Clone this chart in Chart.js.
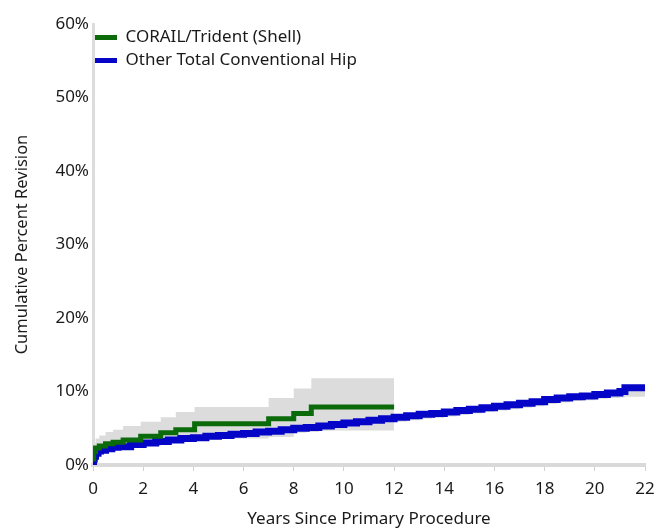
<!DOCTYPE html>
<html>
<head>
<meta charset="utf-8">
<script src="https://cdn.jsdelivr.net/npm/chart.js@4/dist/chart.umd.min.js"></script>
<style>
  html, body { margin: 0; padding: 0; background: #ffffff; }
  #wrap { width: 657px; height: 530px; }
</style>
</head>
<body>
<div id="wrap"><canvas id="c" width="657" height="530"></canvas></div>
<script>
// ---- Data (years since primary procedure, cumulative percent revision) ----
const seriesNames = ["CORAIL/Trident (Shell)", "Other Total Conventional Hip"];

const greenYears = [0, 0.03, 0.1, 0.25, 0.5, 0.8, 1.2, 1.9, 2.7, 3.3, 4.05, 7.0, 8.0, 8.7, 12.0];
const greenVals  = [0.8, 1.8, 2.3, 2.6, 2.9, 3.1, 3.4, 3.9, 4.4, 4.8, 5.6, 6.3, 7.0, 7.9, 7.9];
const greenLo    = [0.3, 1.0, 1.4, 1.6, 1.9, 2.1, 2.3, 2.6, 3.0, 3.3, 3.6, 3.8, 4.6, 4.7, 4.7];
const greenHi    = [1.5, 3.0, 3.6, 4.0, 4.5, 4.8, 5.3, 5.9, 6.5, 7.2, 7.9, 9.1, 10.4, 11.8, 11.8];

const blueYears = [0, 0.02, 0.05, 0.1, 0.2, 0.3, 0.5, 0.75, 1, 1.5, 2, 2.5, 3, 3.5, 4, 4.5, 5, 5.5, 6, 6.5, 7, 7.5, 8, 8.5, 9, 9.5, 10, 10.5, 11, 11.5, 12, 12.5, 13, 13.5, 14, 14.5, 15, 15.5, 16, 16.5, 17, 17.5, 18, 18.5, 19, 19.5, 20, 20.5, 21, 21.2, 22];
const blueVals  = [0.2, 0.8, 1.2, 1.6, 1.9, 2.0, 2.2, 2.4, 2.5, 2.8, 3.0, 3.2, 3.4, 3.6, 3.7, 3.9, 4.0, 4.2, 4.3, 4.5, 4.6, 4.8, 5.0, 5.1, 5.3, 5.5, 5.7, 5.9, 6.1, 6.3, 6.5, 6.7, 6.9, 7.0, 7.2, 7.4, 7.6, 7.8, 8.0, 8.2, 8.4, 8.6, 8.9, 9.1, 9.3, 9.4, 9.6, 9.8, 10.0, 10.5, 10.5];
const blueLo    = [0.1, 0.6, 1.0, 1.4, 1.7, 1.8, 2.0, 2.2, 2.3, 2.5, 2.7, 2.9, 3.1, 3.2, 3.3, 3.5, 3.6, 3.7, 3.8, 4.0, 4.1, 4.3, 4.4, 4.5, 4.7, 4.9, 5.1, 5.3, 5.5, 5.7, 5.9, 6.1, 6.3, 6.4, 6.6, 6.8, 7.0, 7.2, 7.4, 7.6, 7.8, 8.0, 8.3, 8.5, 8.7, 8.8, 9.0, 9.1, 9.2, 9.3, 9.3];
const blueHi    = [0.4, 1.0, 1.4, 1.8, 2.1, 2.2, 2.4, 2.6, 2.7, 3.0, 3.2, 3.4, 3.6, 3.8, 3.9, 4.1, 4.3, 4.5, 4.6, 4.8, 4.9, 5.1, 5.3, 5.4, 5.6, 5.8, 6.0, 6.2, 6.4, 6.6, 6.8, 7.0, 7.2, 7.3, 7.5, 7.7, 7.9, 8.1, 8.3, 8.5, 8.7, 8.9, 9.2, 9.4, 9.6, 9.7, 9.9, 10.1, 10.3, 10.8, 10.8];

const xTicks = [0, 2, 4, 6, 8, 10, 12, 14, 16, 18, 20, 22];
const yTicks = [0, 10, 20, 30, 40, 50, 60];

// ---- Build datasets ----
const pts = (xs, ys) => xs.map((x, i) => ({ x: x, y: ys[i] }));
const GREEN = '#0b6b0b';
const BLUE = '#0505c8';
const CI = '#dcdcdc';

const datasets = [
  { label: seriesNames[0], data: pts(greenYears, greenVals), borderColor: GREEN, backgroundColor: GREEN, borderWidth: 5, stepped: 'before', pointRadius: 0, fill: false, order: 0, isLine: true },
  { label: seriesNames[1], data: pts(blueYears, blueVals), borderColor: BLUE, backgroundColor: BLUE, borderWidth: 7, stepped: 'before', pointRadius: 0, fill: false, order: 0, isLine: true },
  { label: 'g_hi', data: pts(greenYears, greenHi), borderWidth: 0, borderColor: 'rgba(0,0,0,0)', stepped: 'before', pointRadius: 0, fill: false, order: 2 },
  { label: 'g_lo', data: pts(greenYears, greenLo), borderWidth: 0, borderColor: 'rgba(0,0,0,0)', backgroundColor: CI, stepped: 'before', pointRadius: 0, fill: '-1', order: 2 },
  { label: 'b_hi', data: pts(blueYears, blueHi), borderWidth: 0, borderColor: 'rgba(0,0,0,0)', stepped: 'before', pointRadius: 0, fill: false, order: 2 },
  { label: 'b_lo', data: pts(blueYears, blueLo), borderWidth: 0, borderColor: 'rgba(0,0,0,0)', backgroundColor: CI, stepped: 'before', pointRadius: 0, fill: '-1', order: 2 }
];

const FONT = "'Noto Sans', 'Open Sans', sans-serif";
const TXT = '#1a1a1a';

// shift the in-plot legend to its place
const legendShift = {
  id: 'legendShift',
  afterLayout(chart) {
    const lg = chart.legend;
    if (!lg) return;
    lg.left += -4; lg.right += -4;
    lg.top += 23; lg.bottom += 23;
  }
};

new Chart(document.getElementById('c'), {
  type: 'line',
  data: { datasets: datasets },
  plugins: [legendShift],
  options: {
    responsive: false,
    animation: false,
    layout: { padding: { top: 24, right: 12, left: 0, bottom: 0 } },
    plugins: {
      tooltip: { enabled: false },
      legend: {
        position: 'chartArea',
        align: 'start',
        labels: {
          font: { family: FONT, size: 17 },
          color: TXT,
          boxWidth: 22,
          boxHeight: 5,
          padding: 6,
          filter: (item, data) => !!data.datasets[item.datasetIndex].isLine,
          generateLabels: (chart) => chart.data.datasets.map((d, i) => ({
            text: d.label, fillStyle: d.borderColor, strokeStyle: d.borderColor, lineWidth: 0, hidden: false, datasetIndex: i, fontColor: TXT
          }))
        }
      }
    },
    scales: {
      x: {
        type: 'linear', min: 0, max: 22,
        afterBuildTicks: (s) => { s.ticks = xTicks.map(v => ({ value: v })); },
        afterFit: (s) => { s.height = 65; s.paddingRight = 0; s.paddingLeft = 0; },
        ticks: { font: { family: FONT, size: 17 }, color: TXT, padding: 8, maxRotation: 0 },
        grid: { display: true, drawOnChartArea: false, drawTicks: true, tickLength: 6, color: '#d0d0d0', lineWidth: 1 },
        border: { display: true, color: '#d9d9d9', width: 4 },
        title: { display: true, text: 'Years Since Primary Procedure', font: { family: FONT, size: 17 }, color: TXT, padding: { top: 4, bottom: 1 } }
      },
      y: {
        type: 'linear', min: 0, max: 60,
        afterBuildTicks: (s) => { s.ticks = yTicks.map(v => ({ value: v })); },
        afterFit: (s) => { s.width = 93; },
        ticks: { font: { family: FONT, size: 17 }, color: TXT, padding: 4, callback: (v) => v + '%' },
        grid: { display: false, drawTicks: false },
        border: { display: true, color: '#dcdcdc', width: 3 },
        title: { display: true, text: 'Cumulative Percent Revision', font: { family: FONT, size: 16.5 }, color: TXT, padding: { top: 12, bottom: 4 } }
      }
    }
  }
});
</script>
</body>
</html>
